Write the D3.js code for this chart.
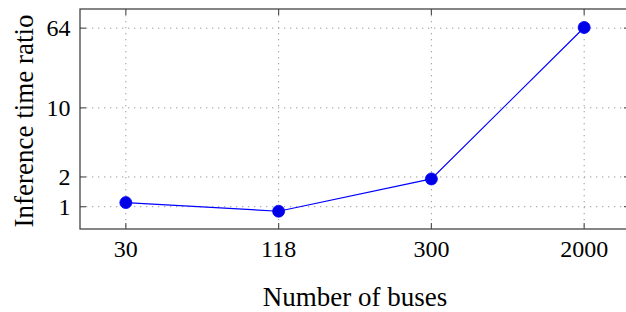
<!DOCTYPE html>
<html>
<head>
<meta charset="utf-8">
<script src="https://cdn.jsdelivr.net/npm/d3@7"></script>
<style>
  body { margin: 0; background: #fff; }
  text { font-family: "Liberation Serif", "Times New Roman", serif; fill: #000; }
</style>
</head>
<body>
<div id="chart"></div>
<script>
// data
const buses = ["30", "118", "300", "2000"];
const ratio = [1.1, 0.9, 1.91, 65];
const yTicks = [1, 2, 10, 64];

const W = 626, H = 312;
const margin = { top: 9, right: -4, bottom: 83, left: 80 };
const width = W - margin.left - margin.right;
const height = H - margin.top - margin.bottom;

const svg = d3.select("#chart").append("svg")
    .attr("width", W)
    .attr("height", H);

const g = svg.append("g")
    .attr("transform", `translate(${margin.left},${margin.top})`);

const x = d3.scalePoint()
    .domain(buses)
    .range([0, width])
    .padding(0.3);

const y = d3.scaleLog()
    .domain([0.595, 100])
    .range([height, 0]);

// grid
const grid = g.append("g").attr("id", "grid");
grid.selectAll("line.gx")
    .data(buses)
    .join("line")
    .attr("class", "gx")
    .attr("x1", d => x(d)).attr("x2", d => x(d))
    .attr("y1", 0).attr("y2", height)
    .attr("stroke", "#9a9a9a")
    .attr("stroke-width", 1)
    .attr("stroke-dasharray", "1.3,4.7");
grid.selectAll("line.gy")
    .data(yTicks)
    .join("line")
    .attr("class", "gy")
    .attr("x1", 0).attr("x2", width)
    .attr("y1", d => y(d)).attr("y2", d => y(d))
    .attr("stroke", "#9a9a9a")
    .attr("stroke-width", 1)
    .attr("stroke-dasharray", "1.3,4.7");

// inward tick marks on all four sides
const tl = 6;
const ticks = g.append("g").attr("id", "ticks")
    .attr("stroke", "#555").attr("stroke-width", 1.2);
buses.forEach(d => {
  ticks.append("line").attr("x1", x(d)).attr("x2", x(d)).attr("y1", height).attr("y2", height - tl);
  ticks.append("line").attr("x1", x(d)).attr("x2", x(d)).attr("y1", 0).attr("y2", tl);
});
yTicks.forEach(d => {
  ticks.append("line").attr("x1", 0).attr("x2", tl).attr("y1", y(d)).attr("y2", y(d));
  ticks.append("line").attr("x1", width).attr("x2", width - tl).attr("y1", y(d)).attr("y2", y(d));
});

// frame
g.append("rect")
    .attr("width", width).attr("height", height)
    .attr("fill", "none")
    .attr("stroke", "#444")
    .attr("stroke-width", 1.3);

// tick labels
g.append("g").selectAll("text")
    .data(buses)
    .join("text")
    .attr("x", d => x(d))
    .attr("y", height + 27.5)
    .attr("text-anchor", "middle")
    .attr("font-size", 24)
    .text(d => d);

g.append("g").selectAll("text")
    .data(yTicks)
    .join("text")
    .attr("x", -9.5)
    .attr("y", d => y(d))
    .attr("dy", "0.33em")
    .attr("text-anchor", "end")
    .attr("font-size", 24)
    .text(d => d);

// line + markers
const line = d3.line()
    .x((d, i) => x(buses[i]))
    .y(d => y(d));

g.append("path")
    .datum(ratio)
    .attr("d", line)
    .attr("fill", "none")
    .attr("stroke", "#0000ff")
    .attr("stroke-width", 1.2);

g.selectAll("circle")
    .data(ratio)
    .join("circle")
    .attr("cx", (d, i) => x(buses[i]))
    .attr("cy", d => y(d))
    .attr("r", 6)
    .attr("fill", "#0000e6")
    .attr("stroke", "#0000ff")
    .attr("stroke-width", 0.8);

// axis labels
svg.append("text")
    .attr("x", 355)
    .attr("y", 306)
    .attr("text-anchor", "middle")
    .attr("font-size", 27)
    .text("Number of buses");

svg.append("text")
    .attr("transform", "translate(33,121) rotate(-90)")
    .attr("text-anchor", "middle")
    .attr("font-size", 27)
    .text("Inference time ratio");
</script>
</body>
</html>
